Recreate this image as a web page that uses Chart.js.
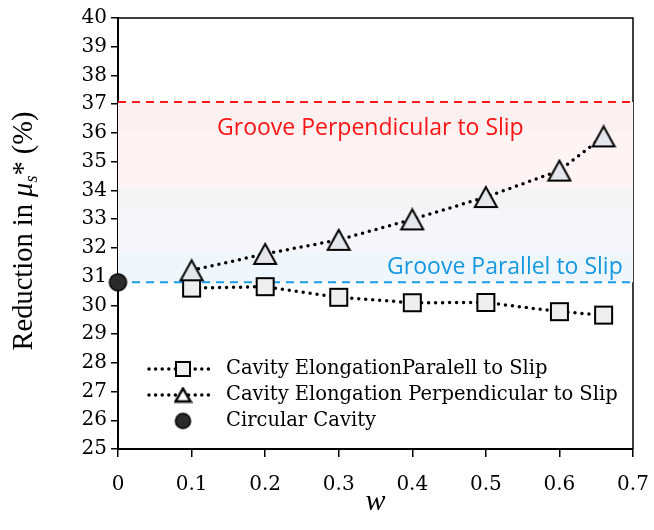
<!DOCTYPE html>
<html>
<head>
<meta charset="utf-8">
<script src="https://cdn.jsdelivr.net/npm/chart.js@4.4.0/dist/chart.umd.min.js"></script>
<style>
    html, body { margin: 0; padding: 0; background: #ffffff; }
</style>
</head>
<body>
<canvas id="reduccion" width="654" height="530"></canvas>
<script>
// Valores leídos por serie
var wParalelo = [0.1, 0.2, 0.3, 0.4, 0.5, 0.6, 0.66];
var reduccionParalelo = [30.60, 30.65, 30.28, 30.09, 30.10, 29.78, 29.66];

var wPerpendicular = [0.1, 0.2, 0.3, 0.4, 0.5, 0.6, 0.66];
var reduccionPerpendicular = [31.22, 31.79, 32.28, 32.99, 33.77, 34.69, 35.88];

var wCircular = [0];
var reduccionCircular = [30.8];

// Referencias de ranura (lineas discontinuas)
var ranuraPerpendicular = 37.08;
var ranuraParalela = 30.8;

var etiquetas = [
    'Cavity ElongationParalell to Slip',
    'Cavity Elongation Perpendicular to Slip',
    'Circular Cavity'
];

var serif = "'DejaVu Serif', serif";
var serifTitulo = "'Liberation Serif', serif";
var sans = "'Open Sans', 'Noto Sans', sans-serif";

function puntos(xs, ys) {
    return xs.map(function (x, i) { return {x: x, y: ys[i]}; });
}

// Marcadores dibujados en canvas aparte (centrados en su caja)
function marcadorTriangulo(ancho, alto, relleno, grosor) {
    var c = document.createElement('canvas');
    c.width = ancho + 4;
    c.height = alto + 4;
    var g = c.getContext('2d');
    g.beginPath();
    g.moveTo(c.width / 2, 2);
    g.lineTo(c.width - 2, alto + 2);
    g.lineTo(2, alto + 2);
    g.closePath();
    g.fillStyle = relleno;
    g.fill();
    g.lineJoin = 'miter';
    g.lineWidth = grosor;
    g.strokeStyle = '#000';
    g.stroke();
    return c;
}

function marcadorCuadrado(lado, relleno, grosor) {
    var c = document.createElement('canvas');
    c.width = lado + 4;
    c.height = lado + 4;
    var g = c.getContext('2d');
    g.fillStyle = relleno;
    g.fillRect(2, 2, lado, lado);
    g.lineWidth = grosor;
    g.strokeStyle = '#000';
    g.strokeRect(2, 2, lado, lado);
    return c;
}

function marcadorCirculo(diametro, relleno) {
    var c = document.createElement('canvas');
    c.width = diametro + 4;
    c.height = diametro + 4;
    var g = c.getContext('2d');
    g.beginPath();
    g.arc(c.width / 2, c.height / 2, diametro / 2, 0, Math.PI * 2);
    g.fillStyle = relleno;
    g.fill();
    g.lineWidth = 1.5;
    g.strokeStyle = '#000';
    g.stroke();
    return c;
}

var triangulo = marcadorTriangulo(22, 20, '#e6e7ec', 2);
var cuadrado = marcadorCuadrado(17, '#efefef', 2);
var circulo = marcadorCirculo(17, '#2b2b2b');

var trianguloLeyenda = marcadorTriangulo(15, 13, '#ffffff', 2.5);
var cuadradoLeyenda = marcadorCuadrado(14, '#efefef', 2);
var circuloLeyenda = marcadorCirculo(15, '#2b2b2b');

// Franja entre las dos ranuras: rosa arriba, gris, azul abajo
function rellenoFranja(context) {
    var chart = context.chart;
    if (!chart.chartArea) {
        return 'rgba(0,0,0,0)';
    }
    var y = chart.scales.y;
    var arriba = y.getPixelForValue(ranuraPerpendicular);
    var abajo = y.getPixelForValue(ranuraParalela);
    var grad = chart.ctx.createLinearGradient(0, arriba, 0, abajo);
    grad.addColorStop(0, '#fdf0f0');
    grad.addColorStop(0.165, '#fdf0f0');
    grad.addColorStop(0.166, '#fff4f4');
    grad.addColorStop(0.474, '#fff4f4');
    grad.addColorStop(0.475, '#f4f4f4');
    grad.addColorStop(0.597, '#f4f4f5');
    grad.addColorStop(0.598, '#f5f5fa');
    grad.addColorStop(0.827, '#f5f5fa');
    grad.addColorStop(0.828, '#f0f7fc');
    grad.addColorStop(1, '#f0f7fc');
    return grad;
}

var marcoPlugin = {
    id: 'marco',
    beforeDatasetsDraw: function (chart) {
        var ctx = chart.ctx;
        var a = chart.chartArea;
        ctx.save();
        ctx.strokeStyle = '#000';
        ctx.lineWidth = 1.5;
        ctx.beginPath();
        ctx.moveTo(a.left, a.top);
        ctx.lineTo(a.right, a.top);
        ctx.lineTo(a.right, a.bottom);
        ctx.stroke();
        ctx.restore();
    }
};

var textosPlugin = {
    id: 'textos',
    afterDatasetsDraw: function (chart) {
        var ctx = chart.ctx;
        var x = chart.scales.x;
        var y = chart.scales.y;
        ctx.save();
        ctx.font = '23px ' + sans;
        ctx.textBaseline = 'middle';
        ctx.fillStyle = '#ff1414';
        ctx.textAlign = 'center';
        ctx.fillText('Groove Perpendicular to Slip', x.getPixelForValue(0.343), y.getPixelForValue(36.17));
        ctx.fillStyle = '#1598e2';
        ctx.textAlign = 'right';
        ctx.fillText('Groove Parallel to Slip', x.getPixelForValue(0.686), y.getPixelForValue(31.33));
        ctx.restore();
    }
};

var leyendaPlugin = {
    id: 'leyenda',
    afterDraw: function (chart) {
        var ctx = chart.ctx;
        var filas = [369, 395, 421];
        var marcas = [cuadradoLeyenda, trianguloLeyenda, circuloLeyenda];
        var conLinea = [true, true, false];
        ctx.save();
        for (var i = 0; i < 3; i++) {
            var yf = filas[i];
            if (conLinea[i]) {
                ctx.strokeStyle = '#000';
                ctx.lineWidth = 3.5;
                ctx.lineCap = 'round';
                ctx.setLineDash([0, 6.6]);
                ctx.beginPath();
                ctx.moveTo(149, yf);
                ctx.lineTo(212, yf);
                ctx.stroke();
                ctx.setLineDash([]);
            }
            var m = marcas[i];
            ctx.drawImage(m, 183 - m.width / 2, yf - m.height / 2);
            ctx.fillStyle = '#000';
            ctx.font = '19.5px ' + serif;
            ctx.textBaseline = 'middle';
            ctx.textAlign = 'left';
            ctx.fillText(etiquetas[i], 226, yf);
        }
        ctx.restore();
    }
};

var titulosPlugin = {
    id: 'titulos',
    afterDraw: function (chart) {
        var ctx = chart.ctx;
        ctx.save();
        ctx.fillStyle = '#000';
        ctx.textBaseline = 'alphabetic';

        // Titulo del eje x
        ctx.font = 'italic 30px ' + serifTitulo;
        ctx.textAlign = 'center';
        ctx.fillText('w', (chart.chartArea.left + chart.chartArea.right) / 2, 510);

        // Titulo del eje y: "Reduction in μs* (%)"
        var partes = [
            {t: 'Reduction in ', f: '28.5px ' + serifTitulo, dy: 0},
            {t: 'μ', f: 'italic 28.5px ' + serifTitulo, dy: 0},
            {t: 's', f: 'italic 18px ' + serifTitulo, dy: 5},
            {t: '*', f: '28.5px ' + serifTitulo, dy: 0},
            {t: ' (%)', f: '28.5px ' + serifTitulo, dy: 0}
        ];
        var total = 0;
        partes.forEach(function (p) {
            ctx.font = p.f;
            p.w = ctx.measureText(p.t).width;
            total += p.w;
        });
        ctx.translate(32, 231);
        ctx.rotate(-Math.PI / 2);
        ctx.textAlign = 'left';
        var xx = -total / 2;
        partes.forEach(function (p) {
            ctx.font = p.f;
            ctx.fillText(p.t, xx, p.dy);
            xx += p.w;
        });
        ctx.restore();
    }
};

var ctx = document.getElementById('reduccion');
new Chart(ctx, {
    type: 'scatter',
    data: {
        datasets: [{
            label: etiquetas[0],
            data: puntos(wParalelo, reduccionParalelo),
            showLine: true,
            borderColor: '#000',
            borderWidth: 3.5,
            borderDash: [0, 7],
            borderCapStyle: 'round',
            pointStyle: cuadrado,
            clip: false,
            order: 1
        }, {
            label: etiquetas[1],
            data: puntos(wPerpendicular, reduccionPerpendicular),
            showLine: true,
            borderColor: '#000',
            borderWidth: 3.5,
            borderDash: [0, 7],
            borderCapStyle: 'round',
            pointStyle: triangulo,
            clip: false,
            order: 0
        }, {
            label: etiquetas[2],
            data: puntos(wCircular, reduccionCircular),
            showLine: false,
            pointStyle: circulo,
            clip: false,
            order: 0
        }, {
            label: 'Groove Perpendicular to Slip',
            data: [{x: 0, y: ranuraPerpendicular}, {x: 0.7, y: ranuraPerpendicular}],
            showLine: true,
            borderColor: '#ff1a1a',
            borderWidth: 2,
            borderDash: [8, 6],
            pointRadius: 0,
            fill: 4,
            backgroundColor: rellenoFranja,
            order: 5
        }, {
            label: 'Groove Parallel to Slip',
            data: [{x: 0, y: ranuraParalela}, {x: 0.7, y: ranuraParalela}],
            showLine: true,
            borderColor: '#1a9be6',
            borderWidth: 2,
            borderDash: [8, 6],
            pointRadius: 0,
            order: 4
        }]
    },
    options: {
        responsive: false,
        animation: false,
        events: [],
        layout: {
            padding: {left: 0, top: 18, right: 21, bottom: 0}
        },
        plugins: {
            legend: {display: false},
            tooltip: {enabled: false}
        },
        scales: {
            x: {
                type: 'linear',
                min: 0,
                max: 0.7,
                afterFit: function (scale) {
                    scale.height = 81;
                    scale.paddingLeft = 0;
                    scale.paddingRight = 0;
                },
                border: {display: true, color: '#000', width: 2},
                grid: {drawOnChartArea: false, drawTicks: true, tickLength: 8, color: '#000', lineWidth: 1.5},
                ticks: {
                    stepSize: 0.1,
                    padding: 16,
                    color: '#000',
                    font: {family: serif, size: 20},
                    maxRotation: 0,
                    callback: function (v) { return String(Math.round(v * 10) / 10); }
                }
            },
            y: {
                min: 25,
                max: 40,
                afterFit: function (scale) {
                    scale.width = 118;
                    scale.paddingTop = 0;
                    scale.paddingBottom = 0;
                },
                border: {display: true, color: '#000', width: 2},
                grid: {drawOnChartArea: false, drawTicks: true, tickLength: 7, color: '#000', lineWidth: 1.5},
                ticks: {
                    stepSize: 1,
                    padding: 4,
                    color: '#000',
                    font: {family: serif, size: 20}
                }
            }
        }
    },
    plugins: [marcoPlugin, textosPlugin, leyendaPlugin, titulosPlugin]
});
</script>
</body>
</html>
